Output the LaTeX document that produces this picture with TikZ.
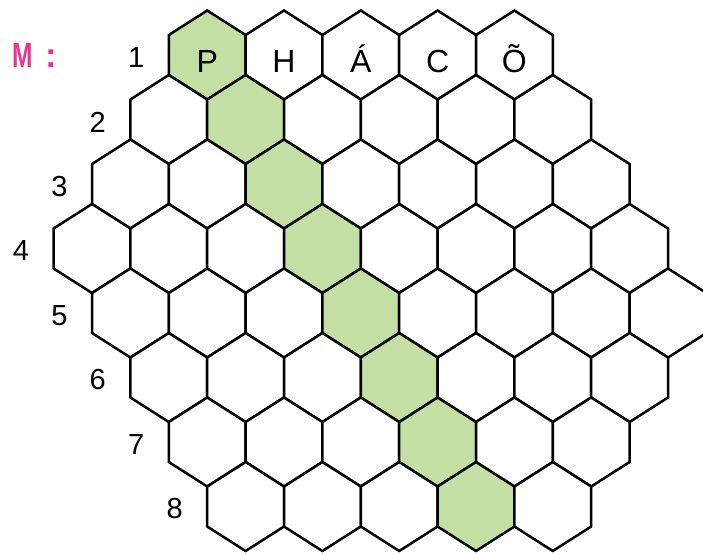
\documentclass[tikz,border=0pt]{standalone}
\usepackage{fontspec}
\setsansfont{Liberation Sans}
\usetikzlibrary{positioning}
\definecolor{cgreen}{HTML}{C4DFA4}
\definecolor{cpink}{HTML}{E8358F}
\tikzset{
  every picture/.style={font=\sffamily, line width=2.5pt},
  cell/.style={draw=black, fill=#1},
  cell/.default=white,
  letter/.style={font=\sffamily\fontsize{32}{34}\selectfont, anchor=base, inner sep=0pt},
  rowno/.style={font=\sffamily\fontsize{29}{31}\selectfont, inner sep=0pt},
}

\begin{document}
\begin{tikzpicture}[x=1pt, y=-1pt,
  title/.style={font=\sffamily\bfseries\fontsize{35}{37}\selectfont, text=cpink, anchor=base west, inner sep=0pt}]
  \useasboundingbox (0,0) rectangle (703,554);
  \clip (0,0) rectangle (703,554);
  \foreach \r/\kmin/\n in {1/3/4, 2/2/5, 3/1/6, 4/0/7, 5/1/7, 6/2/6, 7/3/5, 8/4/4} {
    \pgfmathsetmacro\y{55+64.5*(\r-1)}
    \pgfmathsetmacro\xa{92+38.4*\kmin}
    \node[rowno] (row\r) at (\xa-71,\y+2.5) {\r};
    \foreach \j in {0,...,\n} {
      \pgfmathtruncatemacro\k{\kmin+2*\j}
      \pgfmathsetmacro\x{92+38.4*\k}
      \ifnum\k=\numexpr\r+2\relax \def\hexfill{cgreen}\else \def\hexfill{white}\fi
      \draw[cell=\hexfill] (\x,\y) +(0,-44.5) -- +(38.4,-20) -- +(38.4,20) -- +(0,44.5) -- +(-38.4,20) -- +(-38.4,-20) -- cycle;
    }
  }
  \foreach \c/\k in {P/3, H/5, Á/7, C/9, Õ/11}
    \node[letter] (word\k) at (92+38.4*\k,72) {\c};
  \node[title] (key) at (11,67) {\scalebox{0.7}[1]{M}\hspace{13pt}:};
\end{tikzpicture}
\end{document}
